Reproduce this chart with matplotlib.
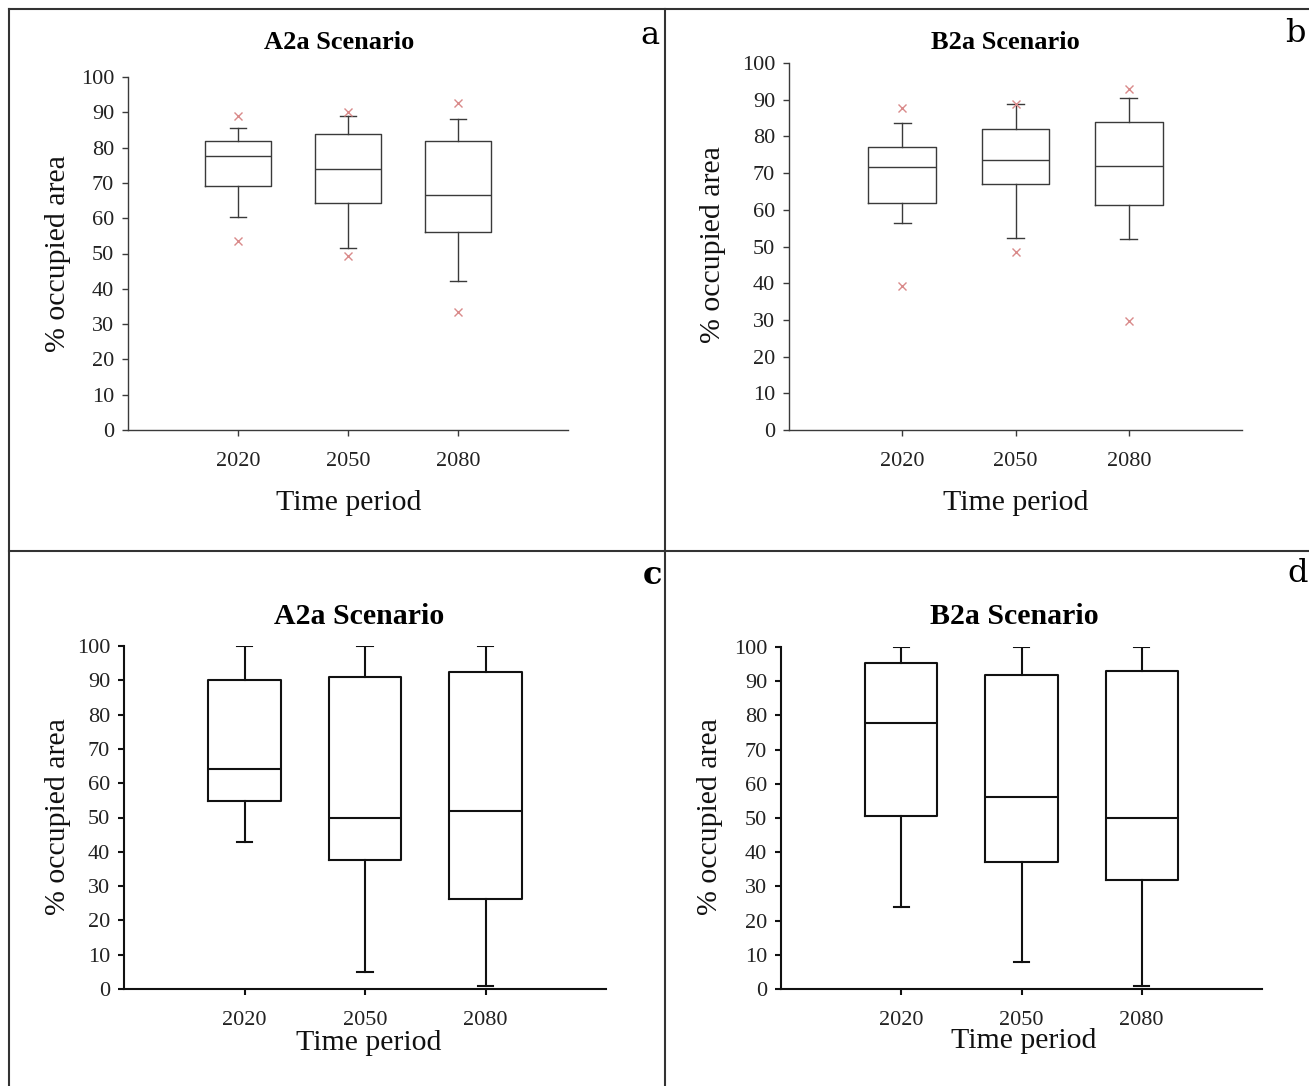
import matplotlib
matplotlib.use("Agg")
import matplotlib.pyplot as plt
from matplotlib.lines import Line2D

plt.rcParams['font.family'] = ['Liberation Serif', 'DejaVu Serif']

periods = ["2020", "2050", "2080"]

# Panel a: A2a scenario (with outliers)
a_whislo = [60.4, 51.6, 42.2]
a_q1 = [69.2, 64.3, 56.0]
a_med = [77.5, 74.0, 66.5]
a_q3 = [81.8, 83.8, 81.8]
a_whishi = [85.6, 89.0, 88.0]
a_fliers = [[88.9, 53.4], [90.0, 49.2], [92.7, 33.5]]

# Panel b: B2a scenario (with outliers)
b_whislo = [56.3, 52.2, 52.0]
b_q1 = [61.9, 66.9, 61.4]
b_med = [71.6, 73.6, 72.0]
b_q3 = [77.0, 82.0, 83.9]
b_whishi = [83.7, 88.9, 90.5]
b_fliers = [[87.7, 39.2], [88.9, 48.5], [92.8, 29.7]]

# Panel c: A2a scenario
c_whislo = [42.9, 4.9, 1.0]
c_q1 = [54.8, 37.5, 26.1]
c_med = [64.1, 49.9, 52.0]
c_q3 = [90.0, 90.9, 92.4]
c_whishi = [100.0, 100.0, 100.0]

# Panel d: B2a scenario
d_whislo = [23.9, 7.9, 1.0]
d_q1 = [50.5, 37.1, 32.0]
d_med = [77.9, 56.1, 49.9]
d_q3 = [95.3, 91.9, 92.9]
d_whishi = [100.0, 100.0, 100.0]

yticks = list(range(0, 101, 10))

W, H = 1309, 1086
fig = plt.figure(figsize=(W / 100, H / 100), dpi=100)


def fr(x0, x1, ytop, ybot):
    return [x0 / W, 1 - ybot / H, (x1 - x0) / W, (ybot - ytop) / H]


def panel(rect, whislo, q1, med, q3, whishi, fliers, title, title_size,
          title_pos, ylab_pos, xlab_pos, lw, color, capw):
    ax = fig.add_axes(rect)
    stats = []
    for i in range(len(periods)):
        stats.append(dict(whislo=whislo[i], q1=q1[i], med=med[i], q3=q3[i],
                          whishi=whishi[i],
                          fliers=fliers[i] if fliers is not None else []))
    ax.bxp(stats, positions=[1, 2, 3], widths=0.6, capwidths=capw,
           boxprops=dict(color=color, lw=lw),
           whiskerprops=dict(color=color, lw=lw),
           capprops=dict(color=color, lw=lw),
           medianprops=dict(color=color, lw=lw),
           flierprops=dict(marker='x', markeredgecolor='#d98a8a',
                           markersize=6, markeredgewidth=1.0, linestyle='none'))
    ax.set_xlim(0, 4)
    ax.set_ylim(0, 100)
    ax.set_yticks(yticks)
    ax.set_xticks([1, 2, 3])
    ax.set_xticklabels(periods)
    for s in ['top', 'right']:
        ax.spines[s].set_visible(False)
    for s in ['left', 'bottom']:
        ax.spines[s].set_color(color)
        ax.spines[s].set_linewidth(lw)
    ax.tick_params(axis='both', direction='out', length=4, width=lw,
                   color=color, labelsize=16, labelcolor='#222222')
    ax.tick_params(axis='x', pad=12)
    ax.tick_params(axis='y', pad=6)
    ax.set_ylabel('% occupied area', fontsize=21.5, color='#111111')
    ax.yaxis.set_label_coords(*ylab_pos)
    ax.yaxis.label.set_va('center')
    ax.set_xlabel('Time period', fontsize=21.5, color='#111111')
    ax.xaxis.set_label_coords(*xlab_pos)
    ax.xaxis.label.set_va('center')
    ax.text(title_pos[0], title_pos[1], title, transform=ax.transAxes,
            ha='center', va='center', fontsize=title_size, fontweight='bold')
    return ax


panel(fr(128, 568, 77, 430), a_whislo, a_q1, a_med, a_q3, a_whishi, a_fliers,
      'A2a Scenario', 19, (0.48, 1.097), (-0.159, 0.501), (0.502, -0.207),
      1.0, '#3a3a3a', 0.15)
panel(fr(789, 1242, 63, 430), b_whislo, b_q1, b_med, b_q3, b_whishi, b_fliers,
      'B2a Scenario', 19, (0.477, 1.056), (-0.168, 0.505), (0.501, -0.199),
      1.0, '#3a3a3a', 0.15)
panel(fr(124, 606, 646, 989), c_whislo, c_q1, c_med, c_q3, c_whishi, None,
      'A2a Scenario', 21.5, (0.488, 1.085), (-0.137, 0.504), (0.508, -0.157),
      1.5, '#111111', 0.125)
panel(fr(781, 1262, 647, 989), d_whislo, d_q1, d_med, d_q3, d_whishi, None,
      'B2a Scenario', 21.5, (0.486, 1.088), (-0.148, 0.505), (0.505, -0.152),
      1.5, '#111111', 0.125)

# panel borders
bx = 9 / W
by = 1 - 9 / H
lc = '#333333'
fig.add_artist(Line2D([bx, bx], [0, by], transform=fig.transFigure, color=lc, lw=1.5))
fig.add_artist(Line2D([bx, 1], [by, by], transform=fig.transFigure, color=lc, lw=1.5))
fig.add_artist(Line2D([665 / W, 665 / W], [0, by], transform=fig.transFigure, color=lc, lw=1.5))
fig.add_artist(Line2D([bx, 1], [1 - 551 / H, 1 - 551 / H], transform=fig.transFigure, color=lc, lw=1.5))

# panel letters
for letter, (x, y) in zip(['a', 'b', 'c', 'd'],
                          [(650, 35), (1295, 33), (652, 575), (1298, 573)]):
    fig.text(x / W, 1 - y / H, letter, ha='center', va='center',
             fontsize=23, family=['DejaVu Serif'],
             fontweight='bold' if letter == 'c' else 'normal')

fig.savefig('out.png', dpi=100)
